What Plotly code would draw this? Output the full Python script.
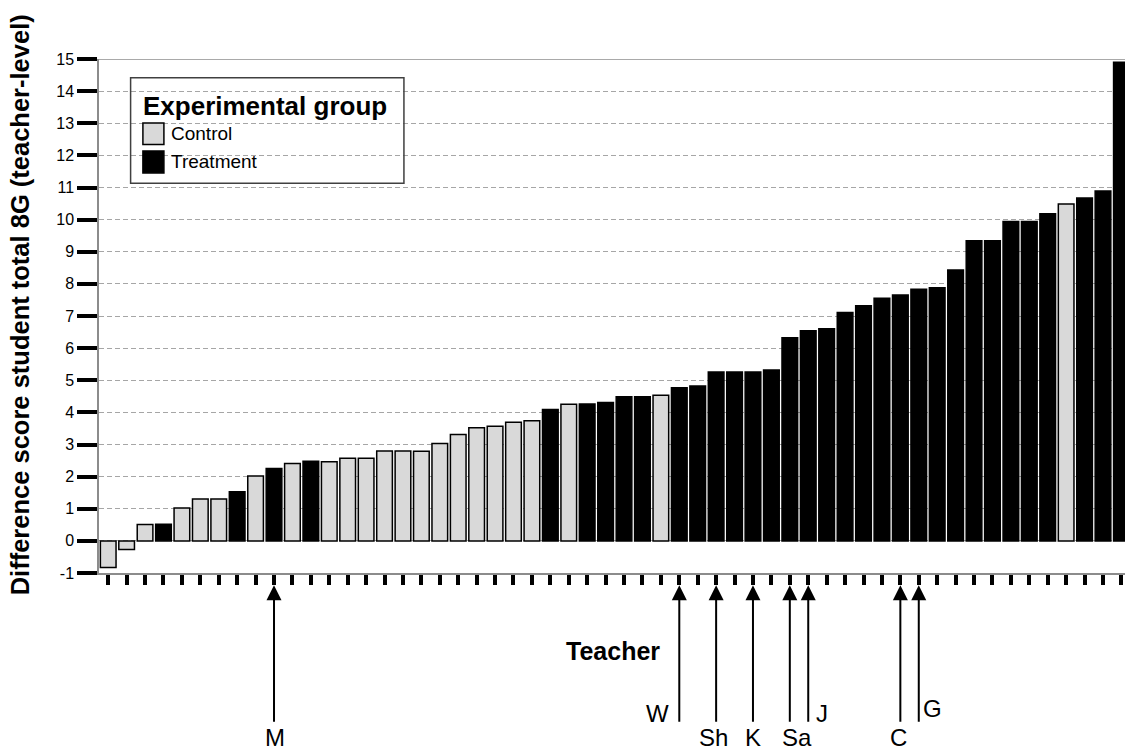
import plotly.graph_objects as go

# ---------------- data ----------------
values = [-0.83, -0.27, 0.51, 0.52, 1.02, 1.30, 1.30, 1.53, 2.02, 2.25,
          2.41, 2.48, 2.46, 2.57, 2.57, 2.80, 2.80, 2.79, 3.03, 3.31,
          3.52, 3.57, 3.69, 3.74, 4.09, 4.25, 4.26, 4.31, 4.49, 4.49,
          4.53, 4.77, 4.82, 5.26, 5.26, 5.26, 5.32, 6.32, 6.54, 6.60,
          7.11, 7.32, 7.55, 7.65, 7.83, 7.88, 8.43, 9.34, 9.34, 9.94,
          9.94, 10.18, 10.49, 10.67, 10.89, 14.90]
groups = list("CCCTCCCTCTCTCCCCCCCCCCCCTCTTTTCTTTTTTTTTTTTTTTTTTTTTCTTT")
group_names = {"C": "Control", "T": "Treatment"}
teacher_labels = ["M", "W", "Sh", "K", "Sa", "J", "C", "G"]
teacher_bar = [9, 31, 33, 35, 37, 38, 43, 44]
y_ticks = list(range(-1, 16))

# ---------------- layout helpers ----------------
W, H = 1125, 751
L = 99.1
R_EDGE = 1125
T_PX = 58.5
B_PX = 572.7
SLOT = 18.42
FONT = "Liberation Sans, Arial, sans-serif"


def px(x):
    return (x - L) / (R_EDGE - L)


def py(y):
    return (B_PX - y) / (B_PX - T_PX)


fig = go.Figure()
colors = {"C": "#d9d9d9", "T": "#000000"}
for g in ["C", "T"]:
    xs = [i for i, gg in enumerate(groups) if gg == g]
    ys = [values[i] for i in xs]
    fig.add_trace(go.Bar(
        x=xs, y=ys, name=group_names[g],
        marker=dict(color=colors[g], line=dict(color="#000000", width=1.5)),
        showlegend=False,
    ))

fig.update_layout(
    width=W, height=H,
    margin=dict(l=L, r=W - R_EDGE, t=T_PX, b=H - B_PX, pad=0),
    paper_bgcolor="white", plot_bgcolor="white",
    barmode="overlay", bargap=0.15,
    font=dict(family=FONT, color="black"),
)

fig.update_xaxes(
    range=[-0.5, -0.5 + (R_EDGE - L) / SLOT],
    tickmode="array", tickvals=list(range(len(values))),
    showticklabels=False, ticks="outside", ticklen=10, tickwidth=4,
    tickcolor="black", showgrid=False, zeroline=False,
    showline=True, linecolor="#8c8c8c", linewidth=1.5,
)
fig.update_yaxes(
    range=[-1, 15], tickmode="array", tickvals=y_ticks,
    ticktext=[str(v) for v in y_ticks],
    ticks="outside", ticklen=20, tickwidth=4, tickcolor="black",
    tickfont=dict(size=16, family=FONT, color="black"),
    showgrid=True, gridcolor="#a6a6a6", gridwidth=1, griddash="5px,3px",
    zeroline=False, showline=True, linecolor="#8c8c8c", linewidth=1.5,
)

shapes = []
shapes.append(dict(type="line", xref="paper", yref="y", x0=0, x1=1, y0=15, y1=15,
                   line=dict(color="#8c8c8c", width=1.5), layer="below"))
shapes.append(dict(type="rect", xref="paper", yref="paper",
                   x0=px(130.7), x1=px(404), y0=py(182.7), y1=py(77.3),
                   line=dict(color="#404040", width=1.5), fillcolor="rgba(0,0,0,0)",
                   layer="above"))
shapes.append(dict(type="rect", xref="paper", yref="paper",
                   x0=px(143), x1=px(164), y0=py(144), y1=py(122.5),
                   line=dict(color="black", width=1.5), fillcolor=colors["C"]))
shapes.append(dict(type="rect", xref="paper", yref="paper",
                   x0=px(143), x1=px(164), y0=py(172.5), y1=py(150.5),
                   line=dict(color="black", width=1.5), fillcolor=colors["T"]))
fig.update_layout(shapes=shapes)

ann = []
ann.append(dict(text="<b>Experimental group</b>", xref="paper", yref="paper",
                x=px(141), y=py(106), xanchor="left", yanchor="middle",
                showarrow=False, font=dict(size=26, family=FONT, color="black")))
ann.append(dict(text="Control", xref="paper", yref="paper",
                x=px(169), y=py(133.5), xanchor="left", yanchor="middle",
                showarrow=False, font=dict(size=19, family=FONT, color="black")))
ann.append(dict(text="Treatment", xref="paper", yref="paper",
                x=px(169), y=py(161.5), xanchor="left", yanchor="middle",
                showarrow=False, font=dict(size=19, family=FONT, color="black")))
ann.append(dict(text="<b>Difference score student total 8G (teacher-level)</b>",
                xref="paper", yref="paper", x=px(21), y=py(304),
                xanchor="center", yanchor="middle", textangle=-90,
                showarrow=False, font=dict(size=25.5, family=FONT, color="black")))
ann.append(dict(text="<b>Teacher</b>", xref="paper", yref="paper",
                x=px(613), y=py(651), xanchor="center", yanchor="middle",
                showarrow=False, font=dict(size=25, family=FONT, color="black")))

label_dx = [1, -22, -3, 0, 7, 14, -2, 14]
label_py = [737, 713, 737, 737, 737, 713, 737, 708]
for lab, bi, dx, ly in zip(teacher_labels, teacher_bar, label_dx, label_py):
    ann.append(dict(text="", xref="x", yref="paper", x=bi, y=py(585),
                    showarrow=True, ax=0, ay=138, axref="pixel", ayref="pixel",
                    arrowhead=2, arrowsize=1.5, arrowwidth=2, arrowcolor="black",
                    standoff=0))
    ann.append(dict(text=lab, xref="x", yref="paper", x=bi, xshift=dx, y=py(ly),
                    xanchor="center", yanchor="middle", showarrow=False,
                    font=dict(size=24, family=FONT, color="black")))
fig.update_layout(annotations=ann)

fig.write_html("out.html",
               config={"displayModeBar": False},
               post_script="document.body.style.margin='0';"
                           "document.body.style.overflow='hidden';")
